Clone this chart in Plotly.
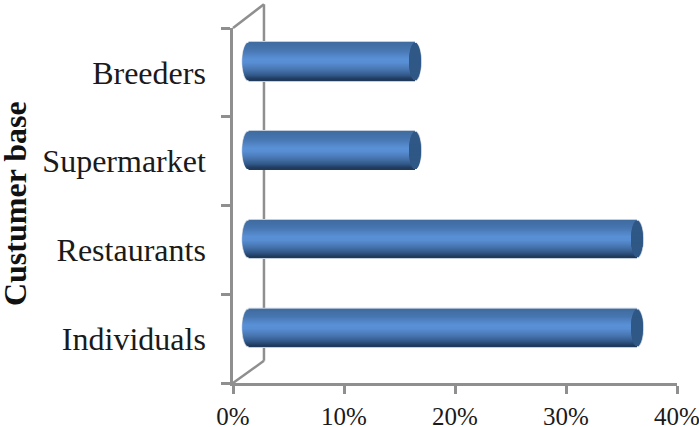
import numpy as np
import plotly.graph_objects as go

# Chart data, bottom to top
categories = ["Individuals", "Restaurants", "Supermarket", "Breeders"]
shares = [35, 35, 15, 15]
x_ticks = [0, 10, 20, 30, 40]
x_tick_labels = ["0%", "10%", "20%", "30%", "40%"]
axis_title = "Custumer base"

W, H = 699, 427
L, R, T, B = 233, 677.5, 28.2, 383.2
px_x = (R - L) / 40
px_y = (B - T) / 4
GRAY = "#8f8f8f"
LINE = 2.5

# Pseudo-3D depth of the cylinders, expressed in axis units
depth_x = 15.5 / px_x
depth_y = 11 / px_y
radius_y = 18.2 / px_y
cap_x = 6 / px_x

stops = [(-1.0, (64, 108, 160)), (-0.6, (71, 118, 176)), (-0.1, (90, 145, 215)),
         (0.1, (88, 142, 211)), (0.5, (70, 115, 172)), (0.8, (48, 86, 134)), (1.0, (32, 58, 92))]


def shade(t):
    ts = [s[0] for s in stops]
    rgb = [np.interp(t, ts, [s[1][i] for s in stops]) for i in range(3)]
    return "rgb(%d,%d,%d)" % tuple(rgb)


def bands(pad, n=38):
    """Stack thin horizontal strips so each bar reads as a rounded cylinder."""
    rows = []
    for t in np.linspace(-1, 1, n):
        bulge = np.sqrt(max(0.0, 1 - t * t))
        for i, v in enumerate(shares):
            rows.append((i + 0.5 + depth_y - t * radius_y * (1 + pad), v, bulge, t))
    return rows


strip = 2 * radius_y / 37 * 1.5
halo, body, cap = bands(0.05), bands(0), bands(0)

fig = go.Figure()
fig.add_bar(
    orientation="h",
    y=[r[0] for r in halo],
    base=[depth_x - (cap_x + 0.7 / px_x) * r[2] for r in halo],
    x=[r[1] + 2 * (cap_x + 0.7 / px_x) * r[2] for r in halo],
    width=strip,
    marker=dict(color="#c3cfdc", line_width=0),
    hoverinfo="skip",
)
fig.add_bar(
    orientation="h",
    y=[r[0] for r in body],
    base=[depth_x - cap_x * r[2] for r in body],
    x=[r[1] + cap_x * r[2] for r in body],
    width=strip,
    marker=dict(color=[shade(r[3]) for r in body], line_width=0),
    hoverinfo="skip",
)
fig.add_bar(
    orientation="h",
    y=[r[0] for r in cap],
    base=[depth_x + r[1] - cap_x * r[2] for r in cap],
    x=[2 * cap_x * r[2] for r in cap],
    width=strip,
    marker=dict(color="#2f5886", line_width=0),
    hoverinfo="skip",
)


def to_paper(px, py):
    return (px - L) / (R - L), (B - py) / (B - T)


# Back wall of the 3D frame
wall = [((L, T), (264, 4.5)), ((264, 4.5), (264, 361)), ((264, 361), (L, B))]
shapes = []
for a, b in wall:
    x0, y0 = to_paper(*a)
    x1, y1 = to_paper(*b)
    shapes.append(dict(type="line", xref="paper", yref="paper", x0=x0, y0=y0, x1=x1, y1=y1,
                       line=dict(color=GRAY, width=LINE), layer="below"))

fig.update_layout(
    width=W, height=H,
    margin=dict(l=L, r=W - R, t=T, b=H - B, pad=0, autoexpand=False),
    autosize=False,
    paper_bgcolor="white", plot_bgcolor="white",
    barmode="overlay",
    showlegend=False,
    shapes=shapes,
    font=dict(family="Liberation Serif", color="#1a1a1a"),
    xaxis=dict(
        range=[0, 40], tickvals=x_ticks, ticktext=x_tick_labels, automargin=False,
        ticks="outside", ticklen=8, tickwidth=LINE, tickcolor=GRAY,
        showline=True, linecolor=GRAY, linewidth=LINE, showgrid=False, zeroline=False,
        tickfont=dict(size=25), ticklabelstandoff=1, ticklabeloverflow="allow",
    ),
    yaxis=dict(
        range=[0, 4], tickvals=[i + 0.5 for i in range(len(categories))], ticktext=categories,
        automargin=False,
        ticks="", showline=True, linecolor=GRAY, linewidth=LINE, showgrid=False, zeroline=False,
        tickfont=dict(size=32), ticklabelstandoff=18,
        minor=dict(tickvals=list(range(len(categories) + 1)), ticks="outside", ticklen=9,
                   tickwidth=LINE, tickcolor=GRAY, showgrid=False),
    ),
    annotations=[dict(
        text="<b>%s</b>" % axis_title, xref="paper", yref="paper",
        x=to_paper(15, 0)[0], y=to_paper(0, 204)[1], textangle=-90,
        xanchor="center", yanchor="middle",
        showarrow=False, font=dict(size=32, family="Liberation Serif", color="#111111"),
    )],
)

fig.write_html("out.html", config=dict(displayModeBar=False))
